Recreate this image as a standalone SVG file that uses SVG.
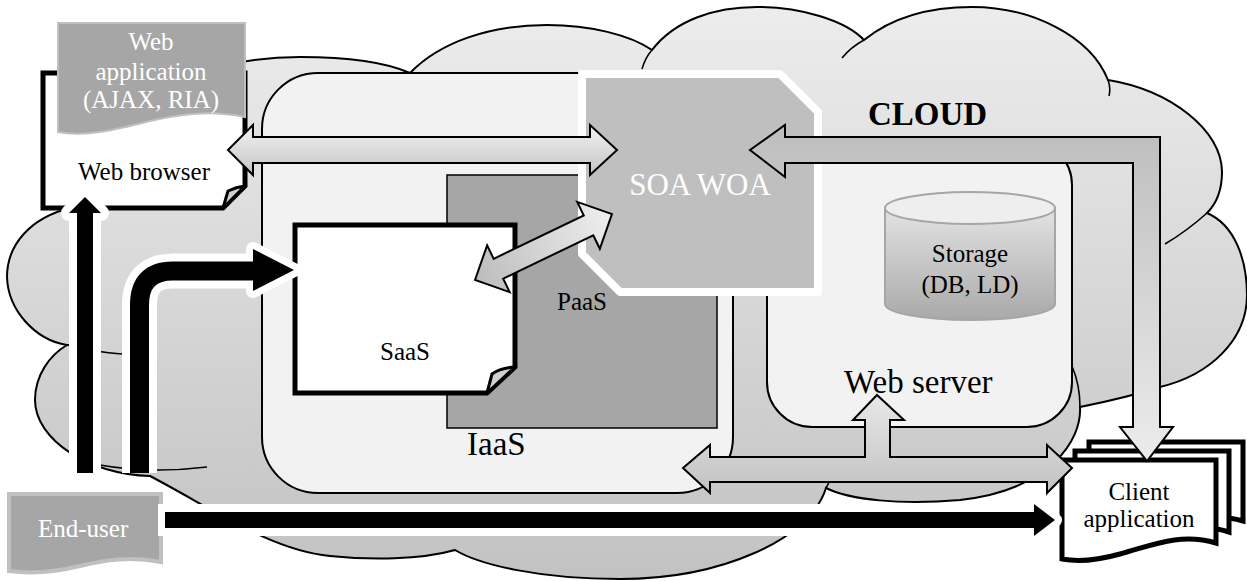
<svg xmlns="http://www.w3.org/2000/svg" width="1247" height="581" viewBox="0 0 1247 581" font-family="'Liberation Serif', 'Times New Roman', serif">
  <defs>
    <linearGradient id="cloudFill" x1="0" y1="0" x2="0" y2="581" gradientUnits="userSpaceOnUse">
      <stop offset="0" stop-color="#ededed"/>
      <stop offset="1" stop-color="#c2c2c2"/>
    </linearGradient>
    <linearGradient id="hArrowFill" x1="0" y1="0" x2="0" y2="1">
      <stop offset="0" stop-color="#f2f2f2"/>
      <stop offset="1" stop-color="#c4c4c4"/>
    </linearGradient>
    <linearGradient id="diagFill" x1="0" y1="0" x2="1" y2="0">
      <stop offset="0" stop-color="#bcbcbc"/>
      <stop offset="1" stop-color="#efefef"/>
    </linearGradient>
    <linearGradient id="cloudArrowFill" x1="0" y1="137" x2="0" y2="462" gradientUnits="userSpaceOnUse">
      <stop offset="0" stop-color="#bfbfbf"/>
      <stop offset="1" stop-color="#ececec"/>
    </linearGradient>
    <linearGradient id="serverArrowFill" x1="0" y1="395" x2="0" y2="493" gradientUnits="userSpaceOnUse">
      <stop offset="0" stop-color="#e8e8e8"/>
      <stop offset="1" stop-color="#c2c2c2"/>
    </linearGradient>
    <linearGradient id="cylFill" x1="0" y1="192" x2="0" y2="320" gradientUnits="userSpaceOnUse">
      <stop offset="0" stop-color="#ebebeb"/>
      <stop offset="1" stop-color="#a9a9a9"/>
    </linearGradient>
  </defs>
  <style>
    text { font-family: "Liberation Serif", "Times New Roman", serif; }
    .thin { stroke: #000; stroke-width: 2; }
    .inner { fill: none; stroke: #000; stroke-width: 1.6; }
    .doc { fill: #fff; stroke: #000; stroke-width: 5; stroke-linejoin: miter; }
    .flap { fill: #d0d0d0; stroke: #000; stroke-width: 3; stroke-linejoin: round; }
    .grayArrow { stroke: #000; stroke-width: 2; stroke-linejoin: miter; }
    .halo { fill: #fff; stroke: #fff; stroke-linejoin: round; }
    .white { fill: #fff; }
    .c { text-anchor: middle; }
    .s { font-size: 25px; }
    .m { font-size: 33px; }
  </style>

  <!-- cloud background -->
  <g id="cloud">
    <path fill="url(#cloudFill)" stroke="#000" stroke-width="2" d="M67,345 C35,340 8,310 7,277 C7,245 30,218 70,208 C90,100 200,57 300,57 C345,57 385,62 410,73 C440,42 490,25 547,25 C590,25 630,35 652,50 C675,20 715,7 757,7 C800,7 845,20 864,40 C895,15 935,7 972,7 C1030,7 1090,35 1108,80 C1170,90 1222,130 1222,172 C1222,192 1216,204 1207,213 C1235,225 1247,260 1247,295 C1247,340 1210,375 1160,387 C1135,395 1105,402 1080,407 C1082,440 1050,490 960,500 C900,505 850,500 826,488 C810,540 720,579 620,579 C540,579 480,565 455,550 C420,560 370,560 330,556 C270,550 215,510 150,476 C90,475 35,440 35,400 C35,375 50,355 67,345 Z"/>
    <path class="inner" d="M67,345 Q95,352 122,354 M100,465 Q150,474 207,467 M652,50 Q645,58 642,69 M864,40 Q851,47 842,58 M1108,80 Q1111,88 1109,96 M1207,213 Q1187,231 1165,244 M1080,407 Q1080,385 1072,366 M826,488 Q829,481 835,475"/>
  </g>

  <!-- infrastructure layer -->
  <g id="iaas">
    <rect x="262" y="73" width="471" height="420" rx="56" fill="#f2f2f2" class="thin"/>
    <text class="m" x="467" y="455">IaaS</text>
  </g>

  <!-- platform layer -->
  <g id="paas">
    <rect x="447" y="175" width="270" height="253" fill="#a6a6a6" stroke="#000" stroke-width="1.5"/>
    <text class="s" x="557" y="310">PaaS</text>
  </g>

  <!-- software layer -->
  <g id="saas">
    <path class="doc" d="M295,225 H515 V367 L487,393 H295 Z"/>
    <path class="flap" d="M487,393 L492,374 Q500,368 515,367 Z"/>
    <text class="s" x="380" y="360">SaaS</text>
  </g>

  <!-- web server -->
  <g id="web-server">
    <rect x="767" y="140" width="305" height="287" rx="45" fill="#f2f2f2" class="thin"/>
    <text class="m" x="844" y="393">Web server</text>
  </g>

  <!-- storage cylinder -->
  <g id="storage">
    <path d="M885,208 V304 A85,16 0 0 0 1055,304 V208 Z" fill="url(#cylFill)" stroke="#a6a6a6" stroke-width="2"/>
    <ellipse cx="970" cy="208" rx="85" ry="16" fill="#eeeeee" stroke="#a6a6a6" stroke-width="2"/>
    <text class="c s" x="970" y="262">Storage</text>
    <text class="c s" x="970" y="293">(DB, LD)</text>
  </g>

  <!-- service layer -->
  <g id="soa-woa">
    <polygon points="582,74 780,74 818,112 818,292 620,292 582,254" fill="#bfbfbf" stroke="#fff" stroke-width="8" stroke-linejoin="round"/>
    <text class="c white" x="700" y="195" font-size="31">SOA WOA</text>
  </g>

  <!-- browser with hosted web application -->
  <g id="web-browser">
    <path class="doc" d="M43,73 H245 V186 L223,208 H43 Z"/>
    <path class="flap" d="M223,208 L228,191 Q236,187 245,186 Z"/>
    <text class="c s" x="144" y="180">Web browser</text>
  </g>
  <g id="web-application">
    <path d="M58,23 H245 V117 C210,110 180,114 150,121 C115,130 85,137 58,132 Z" fill="#a6a6a6" stroke="#bfbfbf" stroke-width="2"/>
    <text class="c white s" x="151" y="50">Web</text>
    <text class="c white s" x="151" y="80">application</text>
    <text class="c white s" x="151" y="108">(AJAX, RIA)</text>
  </g>

  <!-- stacked client documents -->
  <g id="client-application">
    <path class="doc" d="M1089,442 H1243 V521 C1210,511 1180,523 1150,531 C1125,538 1105,540 1089,537 Z"/>
    <path class="doc" d="M1075,451 H1229 V532 C1195,521 1165,534 1135,542 C1110,549 1090,550 1075,547 Z"/>
    <path class="doc" d="M1062,460 H1216 V543 C1180,532 1150,546 1120,554 C1095,561 1078,562 1062,559 Z"/>
    <text class="c s" x="1139" y="500">Client</text>
    <text class="c s" x="1139" y="527">application</text>
  </g>

  <!-- end user -->
  <g id="end-user">
    <path d="M9,494 H161 V562 C130,556 105,560 80,566 C55,572 30,574 9,571 Z" fill="#a6a6a6" stroke="#c0c0c0" stroke-width="4"/>
    <text class="white s" x="38" y="537">End-user</text>
  </g>

  <!-- connectors -->
  <g id="connectors">
    <!-- browser <-> SOA -->
    <polygon class="grayArrow" fill="url(#hArrowFill)" points="228,150 253,125 253,137 590,137 590,125 617,150 590,175 590,163 253,163 253,175"/>
    <!-- SaaS <-> SOA -->
    <g transform="translate(475,280) rotate(-25.7)">
      <polygon class="grayArrow" fill="url(#diagFill)" points="0,0 26,-26 26,-11 126,-11 126,-26 152,0 126,26 126,11 26,11 26,26"/>
    </g>
    <!-- SOA <- client, via the cloud edge -->
    <polygon class="grayArrow" fill="url(#cloudArrowFill)" points="750,150 785,125 785,137 1160,137 1160,427 1173,427 1147,461 1120,427 1133,427 1133,163 785,163 785,177"/>
    <!-- IaaS <-> web server <-> client -->
    <polygon class="grayArrow" fill="url(#serverArrowFill)" points="683,468 710,445 710,457 865,457 865,420 853,420 877,395 904,420 890,420 890,457 1047,457 1047,445 1072,468 1047,493 1047,482 710,482 710,493"/>

    <!-- end-user access paths: white halo first, black body on top -->
    <g>
      <polygon class="halo" stroke-width="16" points="77,473 77,213 69,213 85,197 101,213 93,213 93,473"/>
      <path d="M139.5,473 V305 Q139.5,271 173,271 H256" fill="none" stroke="#fff" stroke-width="35"/>
      <polygon class="halo" stroke-width="14" points="253,249 294,270 253,291"/>
      <path d="M158,520 H1036" fill="none" stroke="#fff" stroke-width="32"/>
      <polygon class="halo" stroke-width="14" points="1034,504 1055,520 1034,536"/>
    </g>
    <g>
      <polygon fill="#000" points="77,473 77,213 69,213 85,197 101,213 93,213 93,473"/>
      <path d="M139.5,473 V305 Q139.5,271 173,271 H256" fill="none" stroke="#000" stroke-width="19"/>
      <polygon fill="#000" points="253,249 294,270 253,291"/>
      <path d="M165,520 H1036" fill="none" stroke="#000" stroke-width="16"/>
      <polygon fill="#000" points="1034,504 1055,520 1034,536"/>
    </g>
  </g>

  <g id="cloud-label">
    <text x="868" y="125" font-size="33" font-weight="bold">CLOUD</text>
  </g>
</svg>
